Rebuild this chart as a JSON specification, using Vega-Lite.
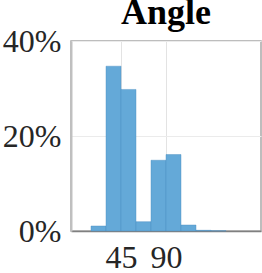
{
  "$schema": "https://vega.github.io/schema/vega-lite/v6.json",
  "width": 190,
  "height": 190,
  "autosize": "none",
  "padding": {"left": 71, "top": 41, "right": 1, "bottom": 42},
  "background": "white",
  "title": {
    "text": "Angle",
    "font": "Times New Roman",
    "fontSize": 36,
    "fontWeight": "bold",
    "color": "#000000",
    "anchor": "middle",
    "frame": "group",
    "baseline": "alphabetic",
    "offset": 0,
    "dy": 35
  },
  "config": {
    "view": {"stroke": "#a8a8a8", "strokeWidth": 1.5}
  },
  "data": {
    "values": [
      {"bin_start": 15, "bin_end": 30, "pct": 1.05},
      {"bin_start": 30, "bin_end": 45, "pct": 34.7},
      {"bin_start": 45, "bin_end": 60, "pct": 29.8},
      {"bin_start": 60, "bin_end": 75, "pct": 1.96},
      {"bin_start": 75, "bin_end": 90, "pct": 14.9},
      {"bin_start": 90, "bin_end": 105, "pct": 16.1},
      {"bin_start": 105, "bin_end": 120, "pct": 1.26},
      {"bin_start": 120, "bin_end": 135, "pct": 0.15},
      {"bin_start": 135, "bin_end": 150, "pct": 0.05}
    ]
  },
  "mark": {"type": "bar", "orient": "vertical", "fill": "#64a9d8", "stroke": "#4a8ec0", "strokeWidth": 0.6, "strokeOpacity": 0.7},
  "encoding": {
    "x": {
      "field": "bin_start",
      "type": "quantitative",
      "scale": {"domain": [0, 180], "nice": false, "zero": false},
      "axis": {
        "title": null,
        "values": [45, 90],
        "grid": true,
        "gridColor": "#e3e3e3",
        "gridWidth": 1,
        "ticks": false,
        "domainColor": "#808080",
        "domainWidth": 1.5,
        "labelFont": "Times New Roman",
        "labelFontSize": 32,
        "labelColor": "#262626",
        "labelPadding": 11
      }
    },
    "x2": {"field": "bin_end"},
    "y": {
      "field": "pct",
      "type": "quantitative",
      "scale": {"domain": [0, 40], "nice": false},
      "axis": {
        "title": null,
        "values": [0, 20, 40],
        "labelExpr": "datum.value + '%'",
        "grid": true,
        "gridColor": "#ebebeb",
        "gridWidth": 1,
        "ticks": false,
        "domainColor": "#c0c0c0",
        "domainWidth": 2,
        "labelFont": "Times New Roman",
        "labelFontSize": 32,
        "labelColor": "#262626",
        "labelPadding": 10
      }
    },
    "y2": {"datum": 0}
  }
}
